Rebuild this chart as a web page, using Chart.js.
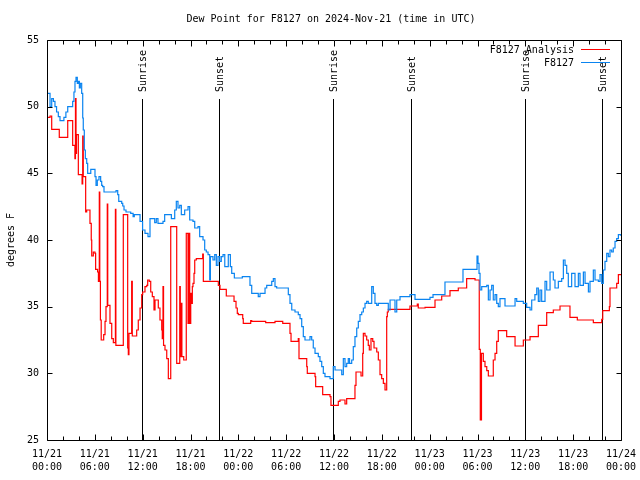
<!DOCTYPE html>
<html><head><meta charset="utf-8">
<script src="https://cdn.jsdelivr.net/npm/chart.js@4/dist/chart.umd.min.js"></script>
<style>html,body{margin:0;padding:0;background:#fff}</style>
</head><body>
<canvas id="c" width="640" height="480"></canvas>
<script>
const titleText = "Dew Point for F8127 on 2024-Nov-21 (time in UTC)";
const yTitle = "degrees F";
const seriesNames = ["F8127 Analysis", "F8127"];
const xTickLabels = [["11/21","00:00"],["11/21","06:00"],["11/21","12:00"],["11/21","18:00"],
  ["11/22","00:00"],["11/22","06:00"],["11/22","12:00"],["11/22","18:00"],
  ["11/23","00:00"],["11/23","06:00"],["11/23","12:00"],["11/23","18:00"],["11/24","00:00"]];
const yTickValues = [25,30,35,40,45,50,55];
const sunHours = [11.97, 21.63, 35.9, 45.6, 60.0, 69.65];
const sunLabels = ["Sunrise","Sunset","Sunrise","Sunset","Sunrise","Sunset"];

const obsHours = [0,0.38,0.59,0.8,1.0,1.2,1.42,1.63,2.12,2.37,2.6,3.22,3.38,3.51,3.64,3.8,3.93,4.06,4.18,4.35,4.48,4.55,4.68,4.81,4.98,5.1,5.49,6.02,6.15,6.31,6.52,6.73,6.86,6.98,7.15,8.66,8.87,9.0,9.37,9.5,9.66,9.91,10.5,10.8,10.95,11.67,11.99,
12.29,12.67,12.92,13.51,13.71,13.92,14.55,14.76,15.6,16.02,16.22,16.43,16.65,16.85,17.27,17.69,17.9,18.31,18.53,18.94,19.15,19.57,19.78,19.98,20.2,20.41,20.5,20.82,21.04,21.24,21.45,21.66,21.86,22.08,22.3,22.74,23.0,23.17,23.5,24.5,25.46,25.68,26.5,26.72,27.35,27.56,28.19,28.39,28.6,28.81,30.27,30.48,30.7,31.11,31.52,31.74,31.95,32.15,32.36,32.99,33.2,33.4,33.62,34.03,34.24,34.46,34.66,34.87,35.5,35.91,36.13,36.97,37.17,37.38,37.59,37.79,37.95,38.22,38.42,38.63,38.85,39.05,39.26,39.48,39.68,39.89,40.1,40.3,40.73,40.93,41.14,41.36,41.56,42.81,43.03,43.65,43.87,44.28,45.53,46.16,48.04,48.42,49.92,52.18,53.94,54.06,54.19,54.32,54.53,55.16,55.36,55.57,55.78,55.98,56.2,56.41,56.61,56.82,57.45,58.71,58.92,59.75,60.17,60.59,60.8,61.2,61.43,61.63,61.84,62.05,62.47,62.68,63.1,63.51,63.72,64.14,64.56,64.77,64.98,65.19,65.39,65.81,66.23,66.65,66.86,67.28,67.49,67.91,68.11,68.53,68.74,69.16,69.37,69.58,69.78,69.99,70.21,70.41,70.62,70.83,71.03,71.25,71.46,71.67,72];
const obsValues = [51.0,50.0,50.6,50.4,50.0,49.6,49.25,48.95,49.2,49.6,50.0,50.4,51.1,51.9,52.2,51.75,51.9,51.4,51.75,51.0,49.15,48.25,46.75,46.1,45.75,45.0,45.3,44.75,44.1,44.5,44.75,44.4,44.1,44.0,43.6,43.7,43.4,42.9,42.75,42.55,42.25,42.1,42.0,41.75,41.9,41.4,40.75,
40.5,40.25,41.6,41.3,41.6,41.25,41.4,41.9,41.6,42.25,42.9,42.4,42.6,41.9,42.25,42.5,41.5,41.4,40.9,41.0,40.25,40.0,39.25,39.1,38.9,37.0,38.75,38.5,38.9,38.1,38.75,38.4,38.75,38.9,38.0,38.9,38.0,37.5,37.15,37.25,36.6,36.0,35.75,36.0,36.4,36.6,36.9,37.1,36.5,36.4,35.9,35.25,34.75,34.6,34.4,34.1,33.5,32.75,32.5,32.75,32.5,31.9,31.5,31.25,30.9,30.5,30.0,29.75,29.6,30.5,30.25,29.9,31.1,30.5,30.75,31.1,30.75,31.0,32.0,32.75,33.4,33.9,34.4,34.6,34.9,35.25,35.4,35.25,36.5,36.0,35.25,35.1,35.25,34.75,35.5,34.6,35.5,35.75,35.9,35.55,35.7,35.9,36.85,37.8,38.8,38.25,37.5,36.25,36.5,36.6,35.5,36.25,36.6,35.5,35.9,35.25,35.0,35.6,35.05,35.6,35.4,35.25,34.95,34.75,35.5,35.9,36.4,35.4,36.25,35.4,36.9,36.25,37.6,37.0,36.4,36.9,37.1,38.5,38.1,37.5,36.5,37.5,36.5,37.5,36.6,37.6,36.75,36.1,36.9,37.75,37.0,36.9,37.4,36.75,37.75,38.4,39.0,38.75,39.25,39.1,39.4,39.9,40.1,40.4,40.3];

const anaHours = [0,0.38,0.59,1.54,2.6,3.22,3.5,3.57,3.64,3.7,3.93,4.4,4.48,4.55,4.85,4.98,5.39,5.55,5.61,5.81,6.02,6.1,6.35,6.45,6.56,6.62,6.7,6.8,7.11,7.28,7.4,7.56,7.62,7.9,8.12,8.32,8.58,8.64,9.57,10.12,10.2,10.28,10.62,10.7,11.25,11.45,11.67,11.88,12.0,12.29,12.51,12.63,12.83,13.01,13.21,13.42,13.55,13.96,14.17,14.39,14.46,14.55,14.62,14.8,15.02,15.22,15.52,16.27,16.65,16.72,16.85,16.92,17.15,17.47,17.69,17.81,17.9,18.03,18.1,18.23,18.31,18.44,18.53,18.73,19.53,19.61,21.49,21.7,22.49,23.46,23.71,23.87,24.0,24.55,24.62,25.55,25.68,27.43,28.6,29.57,30.48,30.61,31.52,31.61,32.58,32.65,33.62,33.7,34.58,35.5,35.62,36.54,36.75,37.38,37.59,38.63,38.76,39.39,39.6,39.68,39.89,40.1,40.3,40.43,40.64,40.86,41.02,41.36,41.56,41.77,41.98,42.19,42.4,42.61,42.69,42.81,45.53,46.45,46.57,47.42,48.67,49.51,50.55,51.59,52.64,53.69,54.22,54.35,54.5,54.73,54.94,55.16,55.36,55.98,56.2,56.41,56.61,57.66,58.71,59.75,60.59,61.63,62.68,63.51,64.35,65.6,66.52,68.53,69.58,69.71,70.54,70.62,71.46,71.67,72];
const anaValues = [49.2,49.3,48.3,47.7,48.95,47.1,46.1,50.6,46.5,47.9,44.9,44.2,47.8,44.75,42.1,42.25,41.25,40.0,38.8,39.1,39.0,37.8,37.6,36.9,43.6,36.9,34.0,32.5,32.9,33.9,35.0,42.7,35.1,33.75,32.6,32.3,42.3,32.1,41.9,31.9,31.4,33.0,36.9,32.8,33.25,34.0,34.9,35.9,36.1,36.5,36.6,37.0,36.9,36.1,35.75,34.75,35.5,34.9,34.0,33.25,32.6,36.5,32.1,31.75,31.1,29.6,41.0,30.75,36.5,31.25,35.25,31.25,31.0,40.5,33.75,40.5,33.75,36.0,35.25,36.5,36.75,37.5,38.5,38.6,38.95,36.9,36.6,36.3,35.8,35.4,34.9,34.5,34.4,34.1,33.75,33.95,33.9,33.8,33.9,33.75,33.0,32.4,32.6,31.1,30.5,30.0,29.75,29.0,28.4,28.25,27.6,27.9,28.0,27.7,28.1,29.1,30.1,29.8,31.5,33.0,32.8,32.5,32.1,31.75,32.6,32.4,31.9,31.6,31.0,29.9,29.6,29.25,28.75,34.25,34.6,34.8,35.05,35.2,34.9,34.95,35.5,35.8,36.2,36.4,37.1,37.0,31.8,26.5,31.5,30.9,30.5,30.2,29.8,31.0,31.5,32.4,33.2,32.75,32.05,32.5,32.75,33.6,34.55,34.75,35.05,34.2,34.0,33.8,34.05,34.7,35.0,36.4,36.75,37.4,37.4];

const FONT = '10px "DejaVu Sans Mono", "Liberation Mono", monospace';
const RED = '#ff0000';
const BLUE = '#0a84f0';

const overlay = {
  id: 'overlay',
  beforeDatasetsDraw(chart) {
    const {ctx, chartArea: a, scales: {x}} = chart;
    ctx.save();
    ctx.strokeStyle = '#000'; ctx.lineWidth = 1; ctx.fillStyle = '#000'; ctx.font = FONT;
    sunHours.forEach((h, i) => {
      const px = Math.round(x.getPixelForValue(h)) + 0.5;
      ctx.beginPath(); ctx.moveTo(px, 99); ctx.lineTo(px, a.bottom); ctx.stroke();
      ctx.save();
      ctx.translate(px + 1, 92); ctx.rotate(-Math.PI / 2);
      ctx.textAlign = 'left'; ctx.textBaseline = 'middle';
      ctx.fillText(sunLabels[i], 0, 0);
      ctx.restore();
    });
    ctx.restore();
  },
  afterDraw(chart) {
    const {ctx, chartArea: a, scales: {x, y}} = chart;
    ctx.save();
    ctx.strokeStyle = '#000'; ctx.lineWidth = 1;
    const L = Math.round(a.left) + 0.5, R = Math.round(a.right) + 0.5;
    const T = Math.round(a.top) + 0.5, B = Math.round(a.bottom) + 0.5;
    ctx.beginPath(); ctx.rect(L, T, R - L, B - T); ctx.stroke();
    for (let h = 0; h <= 72; h += 2) {
      const px = Math.round(x.getPixelForValue(h)) + 0.5;
      const len = (h % 6 === 0) ? 6 : 4;
      ctx.beginPath();
      ctx.moveTo(px, B); ctx.lineTo(px, B - len);
      ctx.moveTo(px, T); ctx.lineTo(px, T + len);
      ctx.stroke();
    }
    yTickValues.forEach(v => {
      const py = Math.round(y.getPixelForValue(v)) + 0.5;
      ctx.beginPath();
      ctx.moveTo(L, py); ctx.lineTo(L + 5, py);
      ctx.moveTo(R, py); ctx.lineTo(R - 5, py);
      ctx.stroke();
    });
    ctx.fillStyle = '#000'; ctx.font = FONT;
    ctx.textAlign = 'center'; ctx.textBaseline = 'middle';
    ctx.fillText(titleText, 331, 19);
    ctx.save(); ctx.translate(11, 240); ctx.rotate(-Math.PI / 2);
    ctx.fillText(yTitle, 0, 0); ctx.restore();
    ctx.textAlign = 'right';
    ctx.fillText(seriesNames[0], 574, 50);
    ctx.fillText(seriesNames[1], 574, 63);
    ctx.lineWidth = 1;
    ctx.strokeStyle = RED; ctx.beginPath(); ctx.moveTo(581, 49.5); ctx.lineTo(610, 49.5); ctx.stroke();
    ctx.strokeStyle = BLUE; ctx.beginPath(); ctx.moveTo(581, 62.5); ctx.lineTo(610, 62.5); ctx.stroke();
    ctx.restore();
  }
};

const tickFont = {family: '"DejaVu Sans Mono", "Liberation Mono", monospace', size: 10, lineHeight: 1.3};

new Chart(document.getElementById('c'), {
  type: 'line',
  data: {
    datasets: [
      {label: seriesNames[1], data: obsHours.map((h, i) => ({x: h, y: obsValues[i]})),
       borderColor: BLUE, borderWidth: 1.2, stepped: true, pointRadius: 0, fill: false, order: 0},
      {label: seriesNames[0], data: anaHours.map((h, i) => ({x: h, y: anaValues[i]})),
       borderColor: RED, borderWidth: 1.2, stepped: true, pointRadius: 0, fill: false, order: 1}
    ]
  },
  options: {
    responsive: false, animation: false, devicePixelRatio: 1,
    layout: {padding: {top: 40, right: 19, bottom: 0, left: 0}},
    plugins: {legend: {display: false}, title: {display: false}, tooltip: {enabled: false}},
    scales: {
      x: {type: 'linear', min: 0, max: 72,
        grid: {display: false, drawTicks: false}, border: {display: false},
        ticks: {stepSize: 6, autoSkip: false, maxRotation: 0, minRotation: 0, padding: 8, color: '#000', font: tickFont,
          callback: (v) => xTickLabels[Math.round(v / 6)]},
        afterFit: (s) => { s.height = 40; s.paddingLeft = 0; s.paddingRight = 0; }},
      y: {min: 25, max: 55,
        grid: {display: false, drawTicks: false}, border: {display: false},
        ticks: {stepSize: 5, padding: 8, color: '#000', font: tickFont},
        afterFit: (s) => { s.width = 47; s.paddingTop = 0; s.paddingBottom = 0; }}
    }
  },
  plugins: [overlay]
});
</script>
</body></html>
